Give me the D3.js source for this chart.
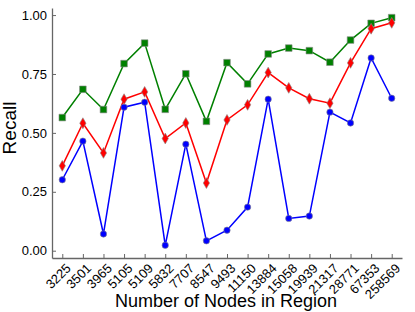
<!DOCTYPE html>
<html><head><meta charset="utf-8">
<script src="https://cdn.jsdelivr.net/npm/d3@7"></script>
<style>body{margin:0;background:#fff}svg{display:block}text{font-family:"Liberation Sans",Arial,sans-serif}</style>
</head><body>
<svg id="c" width="415" height="312"></svg>
<script>
const categories = ["3225","3501","3965","5105","5109","5832","7707","8547","9493","11150","13884","15058","19939","21317","28771","67353","258569"];
const greenValues = [0.565,0.685,0.599,0.794,0.881,0.600,0.751,0.549,0.798,0.708,0.835,0.860,0.849,0.800,0.894,0.965,0.989];
const redValues = [0.360,0.541,0.415,0.643,0.674,0.476,0.542,0.287,0.555,0.619,0.756,0.691,0.645,0.626,0.797,0.942,0.967];
const blueValues = [0.301,0.465,0.071,0.609,0.630,0.023,0.452,0.042,0.087,0.185,0.643,0.137,0.147,0.588,0.542,0.818,0.647];
const yTicks = [0,0.25,0.5,0.75,1.0];

const svg = d3.select("#c");
const x = d3.scalePoint().domain(categories).range([52,402]).padding(0.5);
const y = d3.scaleLinear().domain([-0.031,1.03]).range([258,8]);

const axisColor = "#666";
const xa = svg.append("g").attr("transform","translate(0,258)")
  .call(d3.axisBottom(x).tickSizeOuter(0).tickSizeInner(-4).tickFormat(""));
svg.append("g").selectAll("text").data(categories).join("text")
  .attr("transform",d=>`translate(${x(d)+2.7},262.5) rotate(-45)`)
  .attr("text-anchor","end").attr("dy","0.72em").attr("font-size",13).text(d=>d);
const ya = svg.append("g").attr("transform","translate(52,0)")
  .call(d3.axisLeft(y).tickValues(yTicks).tickFormat(d3.format(".2f")).tickSizeOuter(0).tickSizeInner(-4).tickPadding(5));
ya.selectAll("text").attr("font-size",13).attr("fill","#000");
[xa,ya].forEach(a=>{a.select(".domain").attr("stroke",axisColor).attr("stroke-width",1.3);a.selectAll(".tick line").attr("stroke",axisColor);});

svg.append("text").attr("x",226).attr("y",307).attr("text-anchor","middle").attr("font-size",18).text("Number of Nodes in Region");
svg.append("text").attr("transform","translate(16,128) rotate(-90)").attr("text-anchor","middle").attr("font-size",19).text("Recall");

const line = d3.line().x((d,i)=>x(categories[i])).y(d=>y(d));
const series = [
  {vals:greenValues,color:"#008000",shape:d3.symbolSquare,size:44},
  {vals:blueValues,color:"#0000ff",shape:d3.symbolCircle,size:32},
  {vals:redValues,color:"#ff0000",shape:d3.symbolDiamond,size:34}
];
series.forEach(s=>{
  svg.append("path").datum(s.vals).attr("d",line).attr("fill","none").attr("stroke",s.color).attr("stroke-width",1.5);
});
series.forEach(s=>{
  svg.append("g").selectAll("path").data(s.vals).join("path")
    .attr("d",d3.symbol().type(s.shape).size(s.size))
    .attr("transform",(d,i)=>`translate(${x(categories[i])},${y(d)})`)
    .attr("fill",s.color).attr("stroke","#888").attr("stroke-width",0.6);
});
</script>
</body></html>
